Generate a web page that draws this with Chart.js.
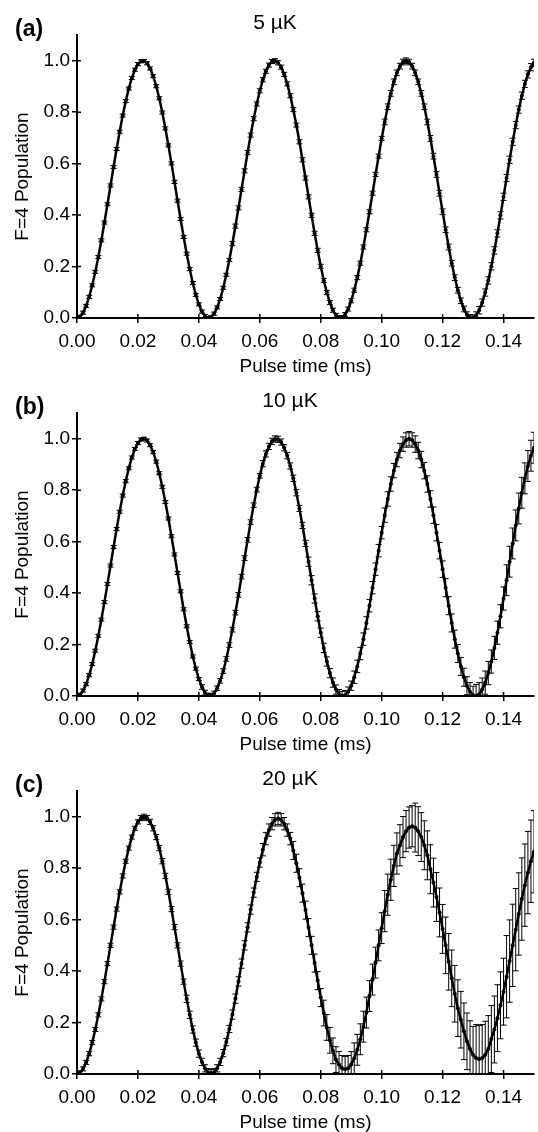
<!DOCTYPE html>
<html>
<head>
<meta charset="utf-8">
<script src="https://cdn.jsdelivr.net/npm/chart.js@4"></script>
<style>
  html, body { margin: 0; padding: 0; background: #fff; overflow: hidden; }
  .panel { position: relative; width: 538px; height: 378px; }
</style>
</head>
<body>
<div class="panel"><canvas id="chartA"></canvas></div>
<div class="panel"><canvas id="chartB"></canvas></div>
<div class="panel"><canvas id="chartC"></canvas></div>
<script>
// pulse time in ms, one sample per microsecond
const TIME = [
  0.000, 0.001, 0.002, 0.003, 0.004, 0.005, 0.006, 0.007, 0.008, 0.009,
  0.010, 0.011, 0.012, 0.013, 0.014, 0.015, 0.016, 0.017, 0.018, 0.019,
  0.020, 0.021, 0.022, 0.023, 0.024, 0.025, 0.026, 0.027, 0.028, 0.029,
  0.030, 0.031, 0.032, 0.033, 0.034, 0.035, 0.036, 0.037, 0.038, 0.039,
  0.040, 0.041, 0.042, 0.043, 0.044, 0.045, 0.046, 0.047, 0.048, 0.049,
  0.050, 0.051, 0.052, 0.053, 0.054, 0.055, 0.056, 0.057, 0.058, 0.059,
  0.060, 0.061, 0.062, 0.063, 0.064, 0.065, 0.066, 0.067, 0.068, 0.069,
  0.070, 0.071, 0.072, 0.073, 0.074, 0.075, 0.076, 0.077, 0.078, 0.079,
  0.080, 0.081, 0.082, 0.083, 0.084, 0.085, 0.086, 0.087, 0.088, 0.089,
  0.090, 0.091, 0.092, 0.093, 0.094, 0.095, 0.096, 0.097, 0.098, 0.099,
  0.100, 0.101, 0.102, 0.103, 0.104, 0.105, 0.106, 0.107, 0.108, 0.109,
  0.110, 0.111, 0.112, 0.113, 0.114, 0.115, 0.116, 0.117, 0.118, 0.119,
  0.120, 0.121, 0.122, 0.123, 0.124, 0.125, 0.126, 0.127, 0.128, 0.129,
  0.130, 0.131, 0.132, 0.133, 0.134, 0.135, 0.136, 0.137, 0.138, 0.139,
  0.140, 0.141, 0.142, 0.143, 0.144, 0.145, 0.146, 0.147, 0.148, 0.149,
  0.150
];

// F=4 population, 5 uK
const POP_A = [
  0.000, 0.005, 0.021, 0.047, 0.082, 0.127, 0.179, 0.237, 0.302, 0.371,
  0.442, 0.515, 0.587, 0.657, 0.724, 0.787, 0.843, 0.892, 0.933, 0.965,
  0.987, 0.998, 0.999, 0.990, 0.970, 0.940, 0.901, 0.854, 0.799, 0.737,
  0.671, 0.601, 0.529, 0.456, 0.385, 0.315, 0.250, 0.190, 0.136, 0.090,
  0.053, 0.025, 0.008, 0.000, 0.003, 0.017, 0.041, 0.074, 0.117, 0.168,
  0.225, 0.289, 0.357, 0.428, 0.500, 0.572, 0.643, 0.711, 0.775, 0.832,
  0.883, 0.926, 0.959, 0.983, 0.997, 1.000, 0.992, 0.975, 0.947, 0.910,
  0.864, 0.810, 0.750, 0.685, 0.615, 0.544, 0.471, 0.399, 0.329, 0.263,
  0.201, 0.146, 0.099, 0.060, 0.030, 0.010, 0.001, 0.002, 0.013, 0.035,
  0.067, 0.108, 0.157, 0.213, 0.276, 0.343, 0.413, 0.485, 0.558, 0.629,
  0.698, 0.762, 0.821, 0.873, 0.918, 0.953, 0.979, 0.995, 1.000, 0.995,
  0.979, 0.953, 0.918, 0.873, 0.821, 0.762, 0.698, 0.629, 0.558, 0.485,
  0.413, 0.343, 0.276, 0.213, 0.157, 0.108, 0.067, 0.035, 0.013, 0.002,
  0.001, 0.010, 0.030, 0.060, 0.099, 0.146, 0.201, 0.263, 0.329, 0.399,
  0.471, 0.544, 0.615, 0.685, 0.750, 0.810, 0.864, 0.910, 0.947, 0.975,
  0.992
];
const ERR_A = [
  0.006, 0.006, 0.006, 0.006, 0.006, 0.006, 0.006, 0.006, 0.006, 0.006,
  0.006, 0.006, 0.006, 0.006, 0.006, 0.006, 0.006, 0.006, 0.006, 0.006,
  0.006, 0.006, 0.006, 0.006, 0.006, 0.006, 0.006, 0.006, 0.006, 0.006,
  0.006, 0.006, 0.006, 0.006, 0.006, 0.006, 0.006, 0.006, 0.006, 0.006,
  0.006, 0.006, 0.006, 0.006, 0.006, 0.006, 0.006, 0.006, 0.006, 0.006,
  0.006, 0.008, 0.008, 0.008, 0.008, 0.008, 0.008, 0.008, 0.008, 0.008,
  0.008, 0.008, 0.008, 0.008, 0.008, 0.008, 0.008, 0.008, 0.008, 0.008,
  0.008, 0.008, 0.008, 0.008, 0.008, 0.008, 0.008, 0.008, 0.008, 0.008,
  0.008, 0.008, 0.008, 0.008, 0.008, 0.008, 0.008, 0.008, 0.008, 0.008,
  0.008, 0.008, 0.008, 0.008, 0.008, 0.008, 0.008, 0.008, 0.008, 0.008,
  0.008, 0.011, 0.011, 0.011, 0.011, 0.011, 0.011, 0.011, 0.011, 0.011,
  0.011, 0.011, 0.011, 0.011, 0.011, 0.011, 0.011, 0.011, 0.011, 0.011,
  0.011, 0.011, 0.011, 0.011, 0.011, 0.011, 0.011, 0.011, 0.011, 0.011,
  0.011, 0.014, 0.014, 0.014, 0.014, 0.014, 0.014, 0.014, 0.014, 0.014,
  0.014, 0.014, 0.014, 0.014, 0.014, 0.014, 0.014, 0.014, 0.014, 0.014,
  0.014
];

// F=4 population, 10 uK
const POP_B = [
  0.000, 0.005, 0.021, 0.046, 0.081, 0.124, 0.176, 0.234, 0.297, 0.365,
  0.435, 0.507, 0.579, 0.649, 0.716, 0.779, 0.835, 0.885, 0.927, 0.960,
  0.983, 0.997, 1.000, 0.993, 0.975, 0.948, 0.911, 0.866, 0.813, 0.754,
  0.690, 0.621, 0.550, 0.478, 0.407, 0.337, 0.271, 0.210, 0.154, 0.106,
  0.066, 0.035, 0.013, 0.002, 0.001, 0.010, 0.030, 0.059, 0.097, 0.144,
  0.198, 0.258, 0.324, 0.393, 0.464, 0.536, 0.607, 0.676, 0.742, 0.802,
  0.856, 0.903, 0.941, 0.970, 0.990, 0.999, 0.998, 0.987, 0.965, 0.934,
  0.894, 0.846, 0.790, 0.729, 0.663, 0.593, 0.522, 0.450, 0.379, 0.310,
  0.246, 0.187, 0.134, 0.089, 0.052, 0.025, 0.007, 0.000, 0.003, 0.017,
  0.040, 0.073, 0.115, 0.165, 0.221, 0.284, 0.351, 0.421, 0.493, 0.565,
  0.635, 0.703, 0.766, 0.824, 0.876, 0.919, 0.954, 0.979, 0.995, 1.000,
  0.995, 0.979, 0.954, 0.919, 0.876, 0.824, 0.766, 0.703, 0.635, 0.565,
  0.493, 0.421, 0.351, 0.284, 0.221, 0.165, 0.115, 0.073, 0.040, 0.017,
  0.003, 0.000, 0.007, 0.025, 0.052, 0.089, 0.134, 0.187, 0.246, 0.310,
  0.379, 0.450, 0.522, 0.593, 0.663, 0.729, 0.790, 0.846, 0.894, 0.934,
  0.965
];
const ERR_B = [
  0.006, 0.006, 0.006, 0.006, 0.006, 0.006, 0.006, 0.006, 0.006, 0.006,
  0.006, 0.006, 0.006, 0.006, 0.006, 0.006, 0.006, 0.006, 0.006, 0.006,
  0.006, 0.006, 0.006, 0.006, 0.006, 0.006, 0.006, 0.006, 0.006, 0.006,
  0.006, 0.006, 0.006, 0.006, 0.006, 0.006, 0.006, 0.006, 0.006, 0.006,
  0.006, 0.009, 0.009, 0.009, 0.009, 0.009, 0.009, 0.009, 0.009, 0.009,
  0.009, 0.009, 0.009, 0.009, 0.009, 0.009, 0.009, 0.009, 0.009, 0.009,
  0.009, 0.012, 0.012, 0.012, 0.012, 0.012, 0.012, 0.012, 0.012, 0.012,
  0.012, 0.012, 0.012, 0.012, 0.012, 0.012, 0.018, 0.018, 0.018, 0.018,
  0.018, 0.018, 0.018, 0.018, 0.018, 0.018, 0.018, 0.018, 0.018, 0.018,
  0.018, 0.024, 0.024, 0.024, 0.024, 0.024, 0.024, 0.024, 0.024, 0.024,
  0.024, 0.028, 0.028, 0.028, 0.028, 0.028, 0.028, 0.028, 0.028, 0.028,
  0.028, 0.032, 0.032, 0.032, 0.032, 0.032, 0.032, 0.032, 0.032, 0.032,
  0.032, 0.035, 0.035, 0.035, 0.035, 0.035, 0.035, 0.035, 0.035, 0.035,
  0.035, 0.045, 0.045, 0.045, 0.045, 0.045, 0.045, 0.045, 0.045, 0.045,
  0.045, 0.060, 0.060, 0.060, 0.060, 0.060, 0.060, 0.060, 0.060, 0.060,
  0.060
];

// F=4 population, 20 uK
const POP_C = [
  0.000, 0.005, 0.020, 0.045, 0.079, 0.122, 0.173, 0.230, 0.292, 0.359,
  0.429, 0.500, 0.571, 0.641, 0.708, 0.770, 0.827, 0.878, 0.921, 0.955,
  0.980, 0.995, 1.000, 0.995, 0.980, 0.955, 0.921, 0.878, 0.827, 0.770,
  0.708, 0.641, 0.571, 0.500, 0.429, 0.359, 0.292, 0.230, 0.173, 0.122,
  0.079, 0.047, 0.022, 0.007, 0.003, 0.007, 0.022, 0.047, 0.081, 0.124,
  0.175, 0.231, 0.293, 0.360, 0.429, 0.500, 0.570, 0.639, 0.705, 0.766,
  0.822, 0.872, 0.915, 0.948, 0.973, 0.988, 0.993, 0.988, 0.973, 0.948,
  0.915, 0.869, 0.819, 0.763, 0.703, 0.637, 0.569, 0.500, 0.431, 0.363,
  0.297, 0.237, 0.181, 0.131, 0.090, 0.056, 0.037, 0.022, 0.018, 0.022,
  0.037, 0.061, 0.094, 0.135, 0.184, 0.239, 0.303, 0.367, 0.433, 0.500,
  0.567, 0.633, 0.697, 0.755, 0.809, 0.857, 0.889, 0.921, 0.944, 0.958,
  0.963, 0.958, 0.944, 0.921, 0.889, 0.850, 0.796, 0.744, 0.688, 0.628,
  0.564, 0.500, 0.436, 0.372, 0.312, 0.256, 0.211, 0.166, 0.127, 0.097,
  0.075, 0.062, 0.058, 0.062, 0.075, 0.097, 0.136, 0.173, 0.217, 0.267,
  0.320, 0.378, 0.439, 0.500, 0.561, 0.622, 0.680, 0.734, 0.783, 0.827,
  0.864
];
const ERR_C = [
  0.008, 0.008, 0.008, 0.008, 0.008, 0.008, 0.008, 0.008, 0.008, 0.008,
  0.008, 0.008, 0.008, 0.008, 0.008, 0.008, 0.008, 0.008, 0.008, 0.008,
  0.008, 0.010, 0.010, 0.010, 0.010, 0.010, 0.010, 0.010, 0.010, 0.010,
  0.010, 0.010, 0.010, 0.010, 0.010, 0.010, 0.014, 0.014, 0.014, 0.014,
  0.014, 0.014, 0.014, 0.014, 0.014, 0.014, 0.014, 0.014, 0.014, 0.014,
  0.014, 0.018, 0.018, 0.018, 0.018, 0.018, 0.018, 0.018, 0.018, 0.018,
  0.018, 0.024, 0.024, 0.024, 0.024, 0.024, 0.024, 0.024, 0.024, 0.024,
  0.024, 0.035, 0.035, 0.035, 0.035, 0.035, 0.035, 0.035, 0.035, 0.035,
  0.035, 0.050, 0.050, 0.050, 0.050, 0.050, 0.050, 0.050, 0.050, 0.050,
  0.050, 0.060, 0.060, 0.060, 0.060, 0.060, 0.060, 0.060, 0.060, 0.060,
  0.060, 0.080, 0.080, 0.080, 0.080, 0.080, 0.080, 0.080, 0.080, 0.080,
  0.080, 0.095, 0.095, 0.095, 0.095, 0.095, 0.095, 0.095, 0.095, 0.095,
  0.095, 0.110, 0.110, 0.110, 0.110, 0.110, 0.110, 0.110, 0.110, 0.110,
  0.110, 0.130, 0.130, 0.130, 0.130, 0.130, 0.130, 0.130, 0.130, 0.130,
  0.130, 0.160, 0.160, 0.160, 0.160, 0.160, 0.160, 0.160, 0.160, 0.160,
  0.160
];

const X_TICKS = [0, 0.02, 0.04, 0.06, 0.08, 0.10, 0.12, 0.14];
const Y_TICKS = [0, 0.2, 0.4, 0.6, 0.8, 1.0];

const FONT = '"Liberation Sans", Arial, sans-serif';

// error bars go under the line so the markers stay on top
const errorBars = {
    id: 'errorBars',
    beforeDatasetsDraw(chart) {
        const {ctx, chartArea, scales: {x, y}} = chart;
        const ds = chart.data.datasets[0];
        ctx.save();
        ctx.beginPath();
        ctx.rect(chartArea.left, chartArea.top, chartArea.right - chartArea.left, chartArea.bottom - chartArea.top);
        ctx.clip();
        ctx.strokeStyle = '#000';
        ctx.lineWidth = 1;
        ctx.beginPath();
        ds.data.forEach((pt, i) => {
            const e = ds.errors[i];
            const px = x.getPixelForValue(pt.x);
            const top = y.getPixelForValue(pt.y + e);
            const bot = y.getPixelForValue(pt.y - e);
            ctx.moveTo(px, top); ctx.lineTo(px, bot);
            ctx.moveTo(px - 3, top); ctx.lineTo(px + 3, top);
            ctx.moveTo(px - 3, bot); ctx.lineTo(px + 3, bot);
        });
        ctx.stroke();
        ctx.restore();
    }
};

// panel letter, temperature, and the inner half of the tick marks
const panelText = {
    id: 'panelText',
    afterDraw(chart, args, opts) {
        const {ctx, scales: {x, y}} = chart;
        ctx.save();
        ctx.fillStyle = '#000';
        ctx.textBaseline = 'middle';
        ctx.textAlign = 'left';
        ctx.font = 'bold 23px ' + FONT;
        ctx.fillText(opts.label, 15, 30);
        ctx.textAlign = 'center';
        ctx.font = '21px ' + FONT;
        ctx.fillText(opts.title, opts.titleX, 23);

        ctx.strokeStyle = '#000';
        ctx.lineWidth = 1.5;
        ctx.beginPath();
        for (const t of x.ticks) {
            const px = x.getPixelForValue(t.value);
            ctx.moveTo(px, x.top);
            ctx.lineTo(px, x.top - 4);
        }
        for (const t of y.ticks) {
            const py = y.getPixelForValue(t.value);
            ctx.moveTo(y.right, py);
            ctx.lineTo(y.right + 4, py);
        }
        ctx.stroke();
        ctx.restore();
    }
};

function plotPanel(canvasId, pop, err, label, title, titleX) {
    const points = TIME.map((t, i) => ({x: t, y: pop[i]}));

    const data = {
        datasets: [{
            data: points,
            errors: err,
            borderColor: '#000',
            backgroundColor: '#000',
            borderWidth: 2.5,
            pointRadius: 2,
            pointBorderWidth: 0,
            pointBackgroundColor: '#000',
            tension: 0
        }]
    };

    const config = {
        type: 'line',
        data: data,
        options: {
            responsive: true,
            maintainAspectRatio: false,
            animation: false,
            devicePixelRatio: 1,
            layout: { padding: { top: 35, left: 0, right: 2, bottom: 0 } },
            plugins: {
                legend: { display: false },
                tooltip: { enabled: false },
                panelText: { label: label, title: title, titleX: titleX }
            },
            scales: {
                x: {
                    type: 'linear',
                    min: 0,
                    max: 0.15,
                    afterBuildTicks: (scale) => { scale.ticks = X_TICKS.map(v => ({value: v})); },
                    afterFit: (scale) => { scale.height = 60; },
                    border: { display: true, color: '#000', width: 2 },
                    grid: { display: true, drawOnChartArea: false, color: '#000', lineWidth: 1.5, tickLength: 5 },
                    ticks: {
                        color: '#000',
                        font: { family: FONT, size: 19 },
                        padding: 7,
                        maxRotation: 0,
                        callback: (v) => v.toFixed(2)
                    },
                    title: {
                        display: true,
                        text: 'Pulse time (ms)',
                        color: '#000',
                        font: { family: FONT, size: 19 },
                        padding: { top: 0, bottom: 0 }
                    }
                },
                y: {
                    min: 0,
                    max: 1.1,
                    afterBuildTicks: (scale) => { scale.ticks = Y_TICKS.map(v => ({value: v})); },
                    afterFit: (scale) => { scale.width = 77; },
                    border: { display: true, color: '#000', width: 2 },
                    grid: { display: true, drawOnChartArea: false, color: '#000', lineWidth: 1.5, tickLength: 5 },
                    ticks: {
                        color: '#000',
                        font: { family: FONT, size: 19 },
                        padding: 2,
                        callback: (v) => v.toFixed(1)
                    },
                    title: {
                        display: true,
                        text: 'F=4 Population',
                        color: '#000',
                        font: { family: FONT, size: 19 },
                        padding: { top: 11, bottom: 0 }
                    }
                }
            }
        },
        plugins: [errorBars, panelText]
    };

    return new Chart(document.getElementById(canvasId), config);
}

plotPanel('chartA', POP_A, ERR_A, '(a)', '5 µK', 275);
plotPanel('chartB', POP_B, ERR_B, '(b)', '10 µK', 290);
plotPanel('chartC', POP_C, ERR_C, '(c)', '20 µK', 290);
</script>
</body>
</html>
